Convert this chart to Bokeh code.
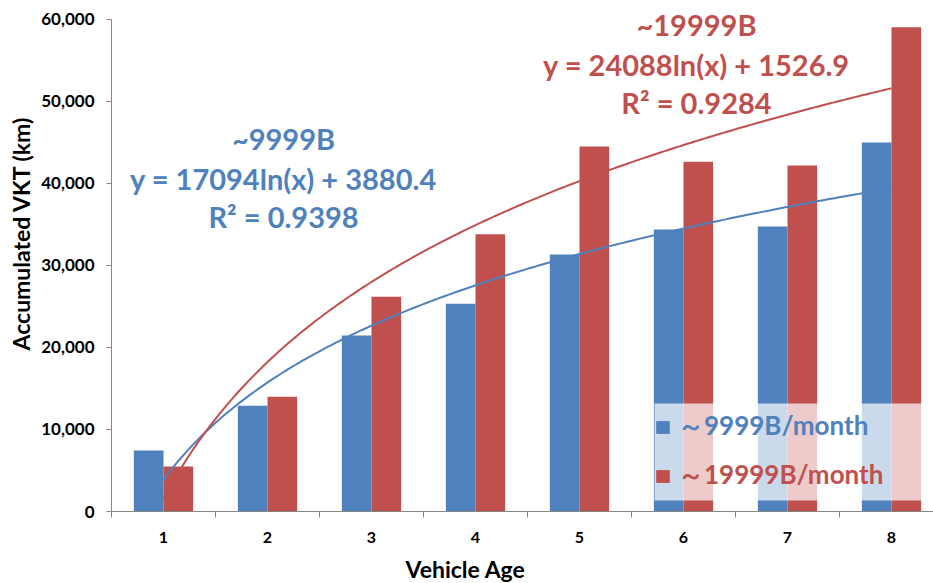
import numpy as np
from bokeh.plotting import figure
from bokeh.models import (FixedTicker, NumeralTickFormatter, Label, Legend,
                          LegendItem, ColumnDataSource, Range1d, Title, BoxAnnotation)
from bokeh.transform import dodge
from bokeh.embed import file_html
from bokeh.resources import INLINE

# ---------------- data ----------------
ages = [1, 2, 3, 4, 5, 6, 7, 8]
age_labels = ["1", "2", "3", "4", "5", "6", "7", "8"]
vkt_low = [7450, 12900, 21450, 25350, 31350, 34400, 34750, 45000]    # ~9999B/month
vkt_high = [5500, 14000, 26200, 33800, 44500, 42650, 42200, 59050]   # ~19999B/month
series_names = ["～9999B/month", "～19999B/month"]

# logarithmic trend lines shown on the chart
low_a, low_b, low_r2 = 17094, 3880.4, 0.9398
high_a, high_b, high_r2 = 24088, 1526.9, 0.9284

y_ticks = [0, 10000, 20000, 30000, 40000, 50000, 60000]
y_max = 60000

BLUE = "#4F81BD"
RED = "#C0504D"
AXIS = "#868686"
FONT = "Lato"

src = ColumnDataSource(dict(age=ages, low=vkt_low, high=vkt_high))

# frame reaches the top of the canvas so the top annotation is not clipped;
# the y axis itself is bounded to 0..60,000
p = figure(width=933, height=583, output_backend="svg", toolbar_location=None,
           x_range=Range1d(0.5, 8.404), y_range=Range1d(0, 62317),
           min_border_left=111, min_border_right=0, min_border_top=0,
           min_border_bottom=72)
p.outline_line_color = None
p.grid.visible = False
p.background_fill_color = "white"
p.border_fill_color = "white"

bw = 0.285
r_low = p.vbar(x=dodge("age", -bw / 2, range=p.x_range), top="low", width=bw,
               bottom=0, source=src, fill_color=BLUE, line_color=None)
r_high = p.vbar(x=dodge("age", bw / 2, range=p.x_range), top="high", width=bw,
                bottom=0, source=src, fill_color=RED, line_color=None)

# trend lines from the fitted equations
xs = np.linspace(ages[0], ages[-1], 200)
p.line(xs, low_a * np.log(xs) + low_b, line_color=BLUE, line_width=2)
p.line(xs, high_a * np.log(xs) + high_b, line_color=RED, line_width=2)

# ---------------- axes ----------------
xa = p.xaxis[0]
xa.ticker = FixedTicker(ticks=ages, minor_ticks=[a - 0.5 for a in ages] + [ages[-1] + 0.5])
xa.major_label_overrides = {a: l for a, l in zip(ages, age_labels)}
xa.major_tick_out = 0
xa.major_tick_in = 0
xa.minor_tick_out = 6
xa.minor_tick_in = 0
xa.axis_line_color = AXIS
xa.minor_tick_line_color = AXIS
xa.major_label_text_font = FONT
xa.major_label_text_font_style = "bold"
xa.major_label_text_font_size = "16px"
xa.major_label_text_color = "black"
xa.major_label_standoff = 14
# blank spacer label: pushes the offset title below a little further down
xa.axis_label = " "
xa.axis_label_text_font_size = "1px"
xa.axis_label_standoff = 3

ya = p.yaxis[0]
ya.ticker = FixedTicker(ticks=y_ticks)
ya.bounds = (0, y_max)
ya.formatter = NumeralTickFormatter(format="0,0")
ya.minor_tick_line_color = None
ya.major_tick_out = 5
ya.major_tick_in = 0
ya.axis_line_color = AXIS
ya.major_tick_line_color = AXIS
ya.major_label_text_font = FONT
ya.major_label_text_font_style = "bold"
ya.major_label_text_font_size = "17px"
ya.major_label_text_color = "black"
ya.major_label_standoff = 12
ya.axis_label = " "
ya.axis_label_text_font_size = "1px"
ya.axis_label_standoff = 0

# axis titles as side-panel titles (so they can be offset like the original)
p.add_layout(Title(text="Accumulated VKT (km)", align="left", offset=161,
                   text_font=FONT, text_font_style="bold", text_font_size="23px",
                   text_color="black", standoff=0), "left")
p.add_layout(Title(text="Vehicle Age", align="left", offset=294,
                   text_font=FONT, text_font_style="bold", text_font_size="23px",
                   text_color="black", standoff=0), "below")

# trend line annotations
def eq_text(a, b):
    return f"y = {a}ln(x) + {b}"

ann = [
    ("~9999B", 2.154, 45490, BLUE),
    (eq_text(low_a, low_b), 2.154, 40610, BLUE),
    (f"R² = {low_r2}", 2.154, 35980, BLUE),
    ("~19999B", 6.125, 59390, RED),
    (eq_text(high_a, high_b), 6.125, 54510, RED),
    (f"R² = {high_r2}", 6.125, 49880, RED),
]
for t, x, y, c in ann:
    p.add_layout(Label(x=x, y=y, text=t, text_align="center", text_baseline="middle",
                       text_font=FONT, text_font_style="bold", text_font_size="29px",
                       text_color=c))

# legend: a translucent white panel, then one legend per series (own colour)
p.add_layout(BoxAnnotation(left=543, right=830, bottom=11, top=108,
                           left_units="screen", right_units="screen",
                           bottom_units="screen", top_units="screen",
                           fill_color="white", fill_alpha=0.7, line_color=None))

def make_legend(name, rend, color, y):
    return Legend(items=[LegendItem(label=name, renderers=[rend])],
                  location=(543, y), padding=7, spacing=0, margin=0,
                  glyph_width=17, glyph_height=16, label_standoff=7,
                  label_text_font=FONT, label_text_font_style="bold",
                  label_text_font_size="26px", label_text_color=color,
                  background_fill_alpha=0, border_line_color=None)

p.add_layout(make_legend(series_names[0], r_low, BLUE, 67))
p.add_layout(make_legend(series_names[1], r_high, RED, 18))

open("out.html", "w").write(file_html(p, INLINE))
